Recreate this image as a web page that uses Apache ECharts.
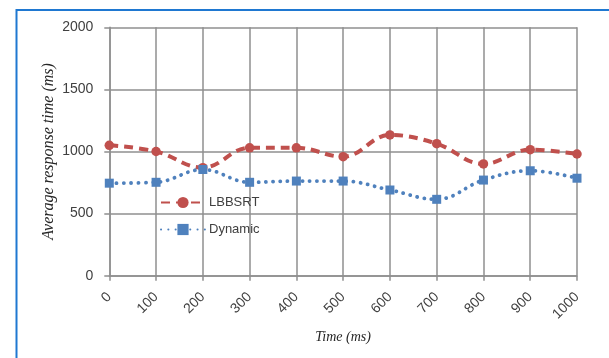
<!DOCTYPE html>
<html>
<head>
<meta charset="utf-8">
<script src="https://cdn.jsdelivr.net/npm/echarts@6/dist/echarts.min.js"></script>
<style>
  html, body { margin: 0; padding: 0; background: #fff; }
  #chart { width: 609px; height: 358px; }
</style>
</head>
<body>
<div id="chart"></div>
<script>
// Time steps (ms) along the x axis
const timeLabels = ['0', '100', '200', '300', '400', '500', '600', '700', '800', '900', '1000'];
// Average response time (ms) per scheme
const lbbsrtValues = [1050, 1000, 870, 1030, 1030, 958, 1133, 1063, 900, 1015, 980];
const dynamicValues = [745, 752, 855, 752, 762, 762, 690, 615, 770, 845, 785];
const yTicks = [0, 500, 1000, 1500, 2000];

const chart = echarts.init(document.getElementById('chart'), null, { renderer: 'canvas' });

const sansFamily = '"Liberation Sans", Arimo, Arial, sans-serif';
const labelFont = { fontFamily: sansFamily, fontSize: 14, color: '#404040' };
const serifFamily = '"Liberation Serif", "DejaVu Serif", serif';
const gridColor = '#8f8f8f';

chart.setOption({
  animation: false,
  backgroundColor: '#ffffff',
  graphic: [{
    type: 'rect',
    shape: { x: 16.5, y: 10, width: 640, height: 400 },
    style: { fill: 'none', stroke: '#1f78d1', lineWidth: 2 },
    silent: true
  }],
  grid: { left: 109.3, right: 32, top: 27.3, bottom: 82.3 },
  legend: {
    orient: 'vertical',
    left: 155,
    top: 191,
    itemWidth: 44,
    itemHeight: 14,
    itemGap: 14,
    textStyle: { fontFamily: sansFamily, fontSize: 13, color: '#404040', padding: [0, 0, 0, -1] },
    data: ['LBBSRT', 'Dynamic']
  },
  xAxis: {
    type: 'category',
    data: timeLabels,
    boundaryGap: false,
    name: 'Time (ms)',
    nameLocation: 'middle',
    nameGap: 55,
    nameMoveOverlap: false,
    nameTextStyle: { fontFamily: serifFamily, fontStyle: 'italic', fontSize: 14, color: '#262626' },
    axisLine: { lineStyle: { color: gridColor, width: 1.5 } },
    axisTick: { show: true, alignWithLabel: true, length: 5, lineStyle: { color: gridColor, width: 1.5 } },
    axisLabel: Object.assign({ rotate: 45, margin: 19, interval: 0 }, labelFont),
    splitLine: { show: true, lineStyle: { color: gridColor, width: 1.5 } }
  },
  yAxis: {
    type: 'value',
    min: yTicks[0],
    max: yTicks[yTicks.length - 1],
    interval: 500,
    name: 'Average response time (ms)',
    nameLocation: 'middle',
    nameGap: 53,
    nameMoveOverlap: false,
    nameTextStyle: { fontFamily: serifFamily, fontStyle: 'italic', fontSize: 16, color: '#262626' },
    axisLine: { show: true, lineStyle: { color: gridColor, width: 1.5 } },
    axisTick: { show: true, length: 5, lineStyle: { color: gridColor, width: 1.5 } },
    axisLabel: Object.assign({ margin: 16, formatter: (v) => String(v) }, labelFont),
    splitLine: { show: true, lineStyle: { color: gridColor, width: 1.5 } }
  },
  series: [
    {
      name: 'LBBSRT',
      type: 'line',
      data: lbbsrtValues,
      smooth: 0.4,
      symbol: 'circle',
      symbolSize: 9.5,
      color: '#c0504d',
      itemStyle: { color: '#c0504d' },
      lineStyle: { color: '#c0504d', width: 4, type: [9, 6] },
      z: 2
    },
    {
      name: 'Dynamic',
      type: 'line',
      data: dynamicValues,
      smooth: 0.4,
      symbol: 'rect',
      symbolSize: 9,
      color: '#4f81bd',
      itemStyle: { color: '#4f81bd' },
      lineStyle: { color: '#4f81bd', width: 3.8, type: [0.1, 7.2], cap: 'round' },
      z: 3
    }
  ]
});
</script>
</body>
</html>
